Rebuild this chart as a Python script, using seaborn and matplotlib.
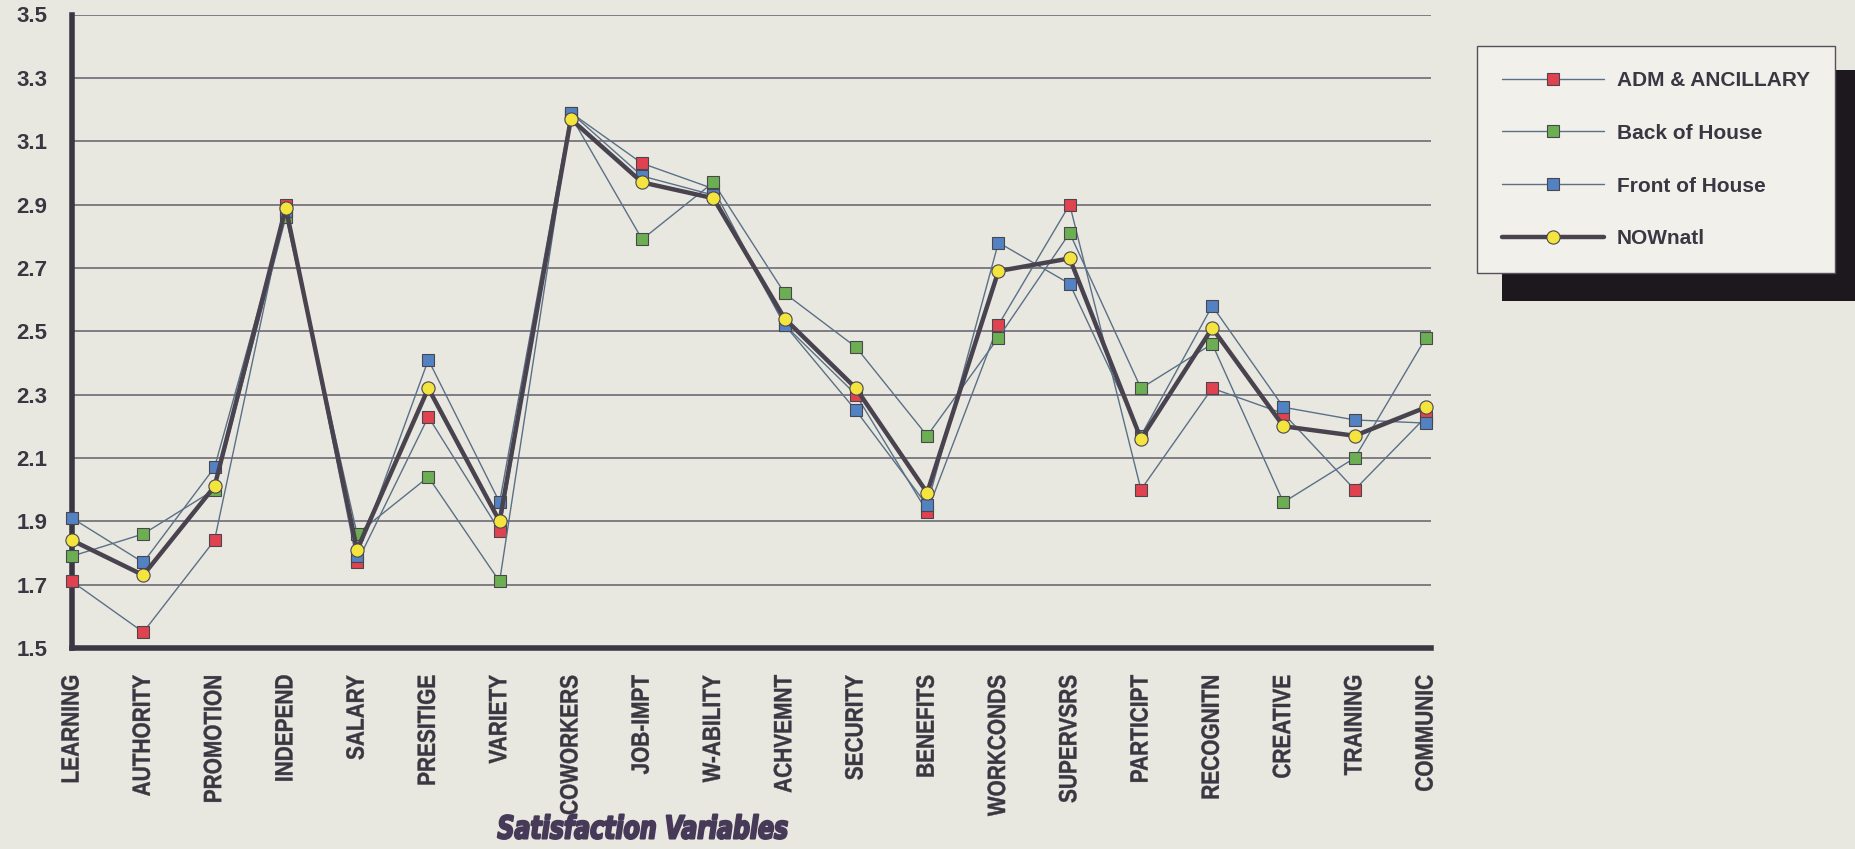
import numpy as np
import pandas as pd
import matplotlib
matplotlib.use("Agg")
import matplotlib.pyplot as plt
from matplotlib.patches import Rectangle
from matplotlib.lines import Line2D
from matplotlib.transforms import Affine2D
from matplotlib import patheffects
import seaborn as sns

# ---- data -----------------------------------------------------------------
categories = ["LEARNING", "AUTHORITY", "PROMOTION", "INDEPEND", "SALARY",
              "PRESITIGE", "VARIETY", "COWORKERS", "JOB-IMPT", "W-ABILITY",
              "ACHVEMNT", "SECURITY", "BENEFITS", "WORKCONDS", "SUPERVSRS",
              "PARTICIPT", "RECOGNITN", "CREATIVE", "TRAINING", "COMMUNIC"]

adm_ancillary = [1.71, 1.55, 1.84, 2.90, 1.77, 2.23, 1.87, 3.19, 3.03, 2.95,
                 2.52, 2.30, 1.93, 2.52, 2.90, 2.00, 2.32, 2.24, 2.00, 2.23]
back_of_house = [1.79, 1.86, 2.00, 2.86, 1.86, 2.04, 1.71, 3.18, 2.79, 2.97,
                 2.62, 2.45, 2.17, 2.48, 2.81, 2.32, 2.46, 1.96, 2.10, 2.48]
front_of_house = [1.91, 1.77, 2.07, 2.88, 1.79, 2.41, 1.96, 3.19, 2.99, 2.93,
                  2.52, 2.25, 1.95, 2.78, 2.65, 2.17, 2.58, 2.26, 2.22, 2.21]
now_natl = [1.84, 1.73, 2.01, 2.89, 1.81, 2.32, 1.90, 3.17, 2.97, 2.92,
            2.54, 2.32, 1.99, 2.69, 2.73, 2.16, 2.51, 2.20, 2.17, 2.26]

series_names = ["ADM & ANCILLARY", "Back of House", "Front of House", "NOWnatl"]
y_ticks = [1.5, 1.7, 1.9, 2.1, 2.3, 2.5, 2.7, 2.9, 3.1, 3.3, 3.5]
x_title = "Satisfaction Variables"

# ---- styling --------------------------------------------------------------
BG = "#e9e8e0"
INK = "#3b3742"
GRID = "#6e6975"
THIN = "#5a7087"

styles = {
    "ADM & ANCILLARY": dict(color=THIN, linewidth=1.0, marker="s", markersize=8.5,
                            markerfacecolor="#e0424f", markeredgecolor="#4a4650",
                            markeredgewidth=0.8),
    "Back of House": dict(color=THIN, linewidth=1.0, marker="s", markersize=8.5,
                          markerfacecolor="#6cae52", markeredgecolor="#4a4650",
                          markeredgewidth=0.8),
    "Front of House": dict(color=THIN, linewidth=1.0, marker="s", markersize=8.5,
                           markerfacecolor="#5282c2", markeredgecolor="#4a4650",
                           markeredgewidth=0.8),
    "NOWnatl": dict(color="#48434e", linewidth=3.2, marker="o", markersize=9.5,
                    markerfacecolor="#f3e43e", markeredgecolor="#4a4650",
                    markeredgewidth=0.8),
}


class Squeeze(patheffects.AbstractPathEffect):
    """Scale glyph outlines about a fixed display point and embolden them
    with a stroke of the fill colour."""

    def __init__(self, sx=1.0, sy=1.0, cx=0.0, cy=0.0, stroke=0.0):
        super().__init__()
        self.sx, self.sy, self.cx, self.cy, self.stroke = sx, sy, cx, cy, stroke

    def draw_path(self, renderer, gc, tpath, affine, rgbFace=None):
        squeeze = (Affine2D().translate(-self.cx, -self.cy)
                   .scale(self.sx, self.sy).translate(self.cx, self.cy))
        gc0 = renderer.new_gc()
        gc0.copy_properties(gc)
        gc0.set_linewidth(self.stroke)
        if rgbFace is not None:
            gc0.set_foreground(rgbFace)
        renderer.draw_path(gc0, tpath, affine + squeeze, rgbFace)
        gc0.restore()


sns.set_theme(style="white")
plt.rcParams["font.family"] = ["Liberation Sans", "DejaVu Sans"]

W, H = 1855, 849
fig = plt.figure(figsize=(W / 100, H / 100), dpi=100, facecolor=BG)
x0_px, x1_px, ybot_px, ytop_px = 72, 1431, 648, 14.5
ax = fig.add_axes([x0_px / W, (H - ybot_px) / H,
                   (x1_px - x0_px) / W, (ybot_px - ytop_px) / H])
ax.set_facecolor(BG)

wide = pd.DataFrame({
    "pos": np.arange(len(categories)),
    "category": categories,
    "ADM & ANCILLARY": adm_ancillary,
    "Back of House": back_of_house,
    "Front of House": front_of_house,
    "NOWnatl": now_natl,
})
long = wide.melt(id_vars=["pos", "category"], value_vars=series_names,
                 var_name="series", value_name="score")

for z, name in enumerate(series_names):
    sub = long[long["series"] == name]
    sns.lineplot(data=sub, x="pos", y="score", ax=ax, sort=False,
                 estimator=None, legend=False, clip_on=False,
                 zorder=3 + z, **styles[name])

# ---- axes -----------------------------------------------------------------
ax.set_xlim(0, 19.07)
ax.set_ylim(1.5, 3.5)
ax.set_yticks(y_ticks)
ax.set_yticklabels([f"{v:.1f}" for v in y_ticks])
ax.set_xticks(np.arange(len(categories)))
ax.set_xticklabels(categories, rotation=90)
ax.set_xlabel("")
ax.set_ylabel("")

ax.yaxis.grid(True, color=GRID, linewidth=1.2)
ax.xaxis.grid(False)
ax.set_axisbelow(True)

for side in ("top", "right"):
    ax.spines[side].set_visible(False)
for side in ("left", "bottom"):
    ax.spines[side].set_color(INK)
    ax.spines[side].set_linewidth(4.0)
    ax.spines[side].set_zorder(2.5)

ax.tick_params(axis="both", direction="inout", width=3.0,
               color=INK, labelcolor=INK)
ax.tick_params(axis="y", length=17, labelsize=16, pad=9)
ax.tick_params(axis="x", length=14.5, labelsize=15, pad=12)
for lab in ax.get_yticklabels():
    lab.set_fontweight("bold")
for lab in ax.get_xticklabels():
    lab.set_fontweight("bold")

cx_title = 642.5
fig.text(cx_title / W, 1 - 830 / H, x_title, ha="center", va="center",
         fontsize=22.7, fontweight="heavy", fontstyle="italic",
         family="DejaVu Sans", color="#463a58",
         path_effects=[Squeeze(sx=0.75, cx=cx_title, stroke=1.5)])

# ---- legend with drop shadow ---------------------------------------------
handles = [Line2D([], [], **styles[n]) for n in series_names]
leg = fig.legend(handles, series_names, loc="upper left",
                 bbox_to_anchor=(1477 / W, 1 - 46 / H),
                 bbox_transform=fig.transFigure, borderaxespad=0,
                 frameon=True, fancybox=False, shadow=False,
                 edgecolor="#55505a", facecolor="#f1f0eb", framealpha=1,
                 handlelength=4.9, handletextpad=0.62, borderpad=1.2,
                 labelspacing=1.62,
                 prop={"family": "Liberation Sans", "weight": "bold", "size": 15})
leg.get_frame().set_linewidth(1.0)
for t in leg.get_texts():
    t.set_color(INK)
leg.set_zorder(6)

fig.canvas.draw()

# tall, tightly set category labels: widen the glyphs across the reading
# direction around each label's own centre line
for lab in ax.get_xticklabels():
    ext = lab.get_window_extent()
    lab.set_path_effects([Squeeze(sx=1.2, cx=0.5 * (ext.x0 + ext.x1), stroke=0.3)])

bb = leg.get_window_extent()
shadow = Rectangle((bb.x0 + 25, bb.y0 - 28), W + 20 - (bb.x0 + 25),
                   (bb.y1 - 24) - (bb.y0 - 28), transform=None,
                   facecolor="#1d181e", edgecolor="none", zorder=5)
fig.add_artist(shadow)

fig.savefig("out.png", dpi=100, facecolor=BG)
